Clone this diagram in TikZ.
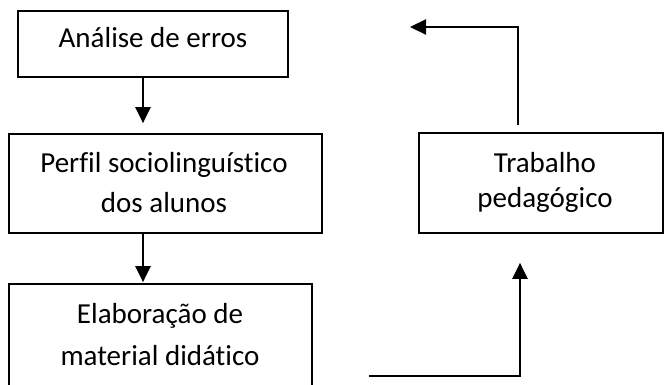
\documentclass[tikz,border=0pt]{standalone}
\usepackage{fontspec}
\setmainfont{Carlito}[Ligatures=CommonOff]
\usetikzlibrary{arrows.meta,calc}
\begin{document}
\begin{tikzpicture}[x=1pt,y=-1pt,
  box/.style={draw,line width=1.7pt,inner sep=0pt},
  txt/.style={inner sep=0pt,font=\fontsize{29}{40}\selectfont,align=center},
  arr/.style={line width=2.3pt,-{Triangle[length=16pt,width=15pt]}}]
\useasboundingbox (0,0) rectangle (664,385);
\clip (0,0) rectangle (664,385);
\node[box,minimum width=270pt,minimum height=66pt] (b1) at (153,44) {};
\node[box,minimum width=313pt,minimum height=99pt] (b2) at (165.5,183.5) {};
\node[box,minimum width=303pt,minimum height=130pt] (b3) at (160.5,349) {};
\node[box,minimum width=244pt,minimum height=100pt] (b4) at (541,183) {};
\node[txt,anchor=base] (t1) at ($(b1.center)+(0,4)$) {Análise de erros};
\node[txt,anchor=base] (t2) at (164,212) {Perfil sociolinguístico\\dos alunos};
\node[txt,anchor=base,font=\fontsize{29}{42}\selectfont] (t3) at (160,365) {Elaboração de\\material didático};
\node[txt,anchor=base,font=\fontsize{29}{35}\selectfont] (t4) at (545,207) {Trabalho\\pedagógico};
\coordinate (c1) at (410,27);
\coordinate (c2) at (369,376);
\draw[arr] ($(b1.south)+(-10,0)$) -- ($(b2.north)+(-22.5,-10)$);
\draw[arr] ($(b2.south)+(-22.5,0)$) -- ($(b3.north)+(-17.5,-1)$);
\draw[arr] ($(b4.north)+(-23,-7)$) |- (c1);
\draw[arr] (c2) -| ($(b4.south)+(-21,29)$);
\end{tikzpicture}
\end{document}
